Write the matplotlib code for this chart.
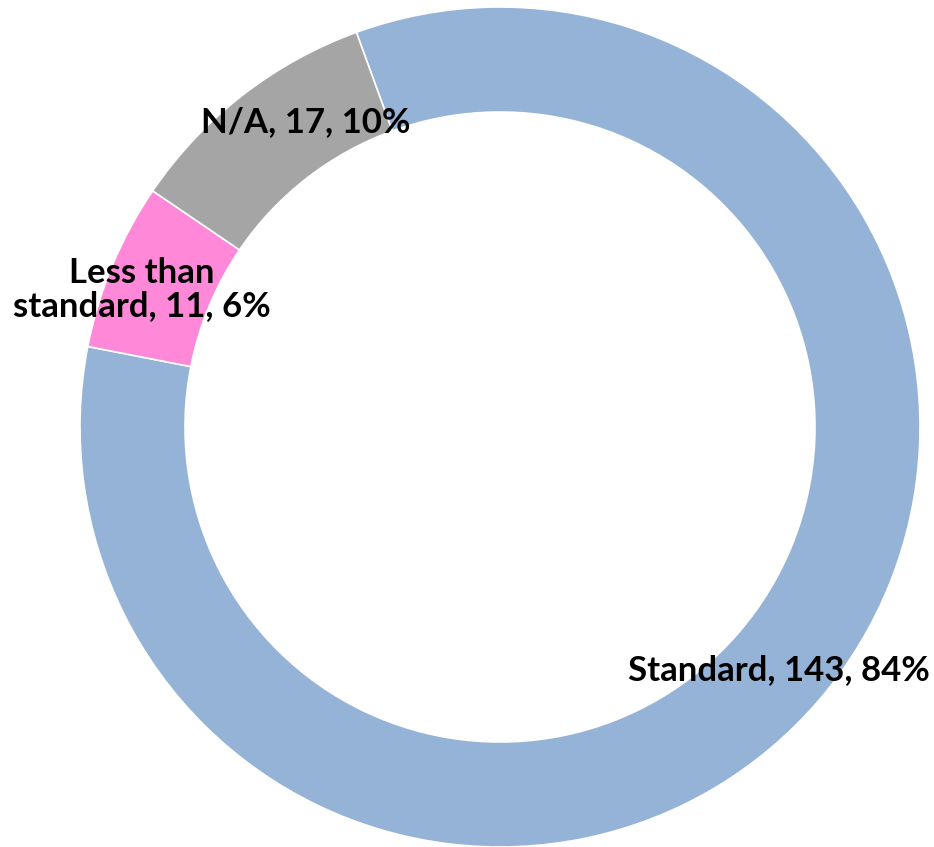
import numpy as np
import matplotlib.pyplot as plt

categories = ['Standard', 'Less than\nstandard', 'N/A']
counts = [143, 11, 17]
percents = [84, 6, 10]
colors = ['#95B3D7', '#FF88D8', '#A5A5A5']

# small nudges for the label placement (in axes units)
label_nudge = [(0.0, -0.01), (-0.045, -0.01), (0.075, 0.036)]

plt.rcParams['font.family'] = ['Lato', 'DejaVu Sans']

fig = plt.figure(figsize=(9.34, 8.47), dpi=100)
ax = fig.add_axes([80 / 934, 0.0, 840 / 934, 840 / 847])

wedges, _ = ax.pie(counts, colors=colors, startangle=110, counterclock=False,
                   radius=1.0, wedgeprops=dict(width=0.25, edgecolor='white', linewidth=1.2))

mid_r = 0.875
for w, cat, n, p, (dx, dy) in zip(wedges, categories, counts, percents, label_nudge):
    ang = np.deg2rad((w.theta1 + w.theta2) / 2)
    x = mid_r * np.cos(ang) + dx
    y = mid_r * np.sin(ang) + dy
    ax.text(x, y, '{}, {}, {}%'.format(cat, n, p), ha='center', va='center',
            fontsize=25, fontweight='bold', color='black', linespacing=1.05)

ax.set_xlim(-1, 1)
ax.set_ylim(-1, 1)
ax.set_aspect('equal')
ax.axis('off')

fig.savefig('out.png', dpi=100)
